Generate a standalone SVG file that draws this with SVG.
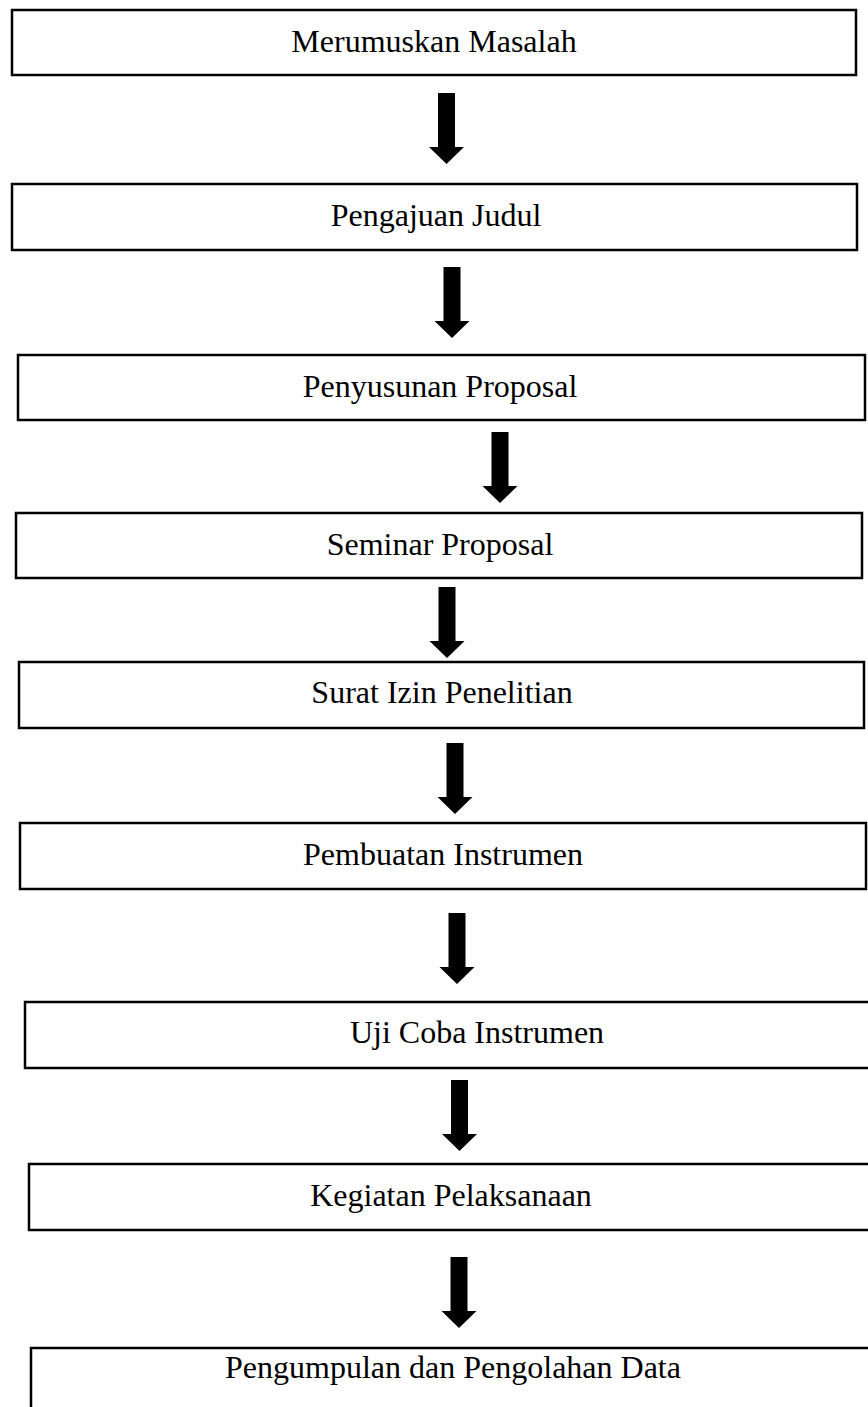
<svg xmlns="http://www.w3.org/2000/svg" xmlns:xlink="http://www.w3.org/1999/xlink" width="868" height="1407" viewBox="0 0 868 1407">
<style>
.box{fill:#fff;stroke:#000;stroke-width:2.5}
.lbl{font-family:"Liberation Serif","Times New Roman",serif;font-size:32px;fill:#000;text-anchor:middle}
</style>
<defs>
<path id="arr" d="M-8.5,0 H8.5 V54 H17.5 L0,71 L-17.5,54 H-8.5 Z" fill="#000"/>
</defs>
<rect width="868" height="1407" fill="#fff"/>
<g id="connectors">
<use xlink:href="#arr" x="446.5" y="93"/>
<use xlink:href="#arr" x="452" y="267"/>
<use xlink:href="#arr" x="500" y="432"/>
<use xlink:href="#arr" x="447" y="587"/>
<use xlink:href="#arr" x="455" y="743"/>
<use xlink:href="#arr" x="457" y="913"/>
<use xlink:href="#arr" x="459.5" y="1080"/>
<use xlink:href="#arr" x="459" y="1257"/>
</g>
<g id="n1"><rect class="box" x="12" y="10" width="844" height="65"/><text class="lbl" x="434" y="52">Merumuskan Masalah</text></g>
<g id="n2"><rect class="box" x="12" y="184" width="845" height="66"/><text class="lbl" x="436" y="226">Pengajuan Judul</text></g>
<g id="n3"><rect class="box" x="18" y="355" width="847" height="65"/><text class="lbl" x="440" y="397">Penyusunan Proposal</text></g>
<g id="n4"><rect class="box" x="16" y="513" width="846" height="65"/><text class="lbl" x="440" y="555">Seminar Proposal</text></g>
<g id="n5"><rect class="box" x="19" y="662" width="845" height="66"/><text class="lbl" x="442" y="703">Surat Izin Penelitian</text></g>
<g id="n6"><rect class="box" x="20" y="823" width="846" height="66"/><text class="lbl" x="443" y="865">Pembuatan Instrumen</text></g>
<g id="n7"><rect class="box" x="25" y="1002" width="850" height="66"/><text class="lbl" x="477" y="1043">Uji Coba Instrumen</text></g>
<g id="n8"><rect class="box" x="29" y="1164" width="846" height="66"/><text class="lbl" x="451" y="1206">Kegiatan Pelaksanaan</text></g>
<g id="n9"><rect class="box" x="31" y="1348" width="846" height="80"/><text class="lbl" x="453" y="1378">Pengumpulan dan Pengolahan Data</text></g>
</svg>
